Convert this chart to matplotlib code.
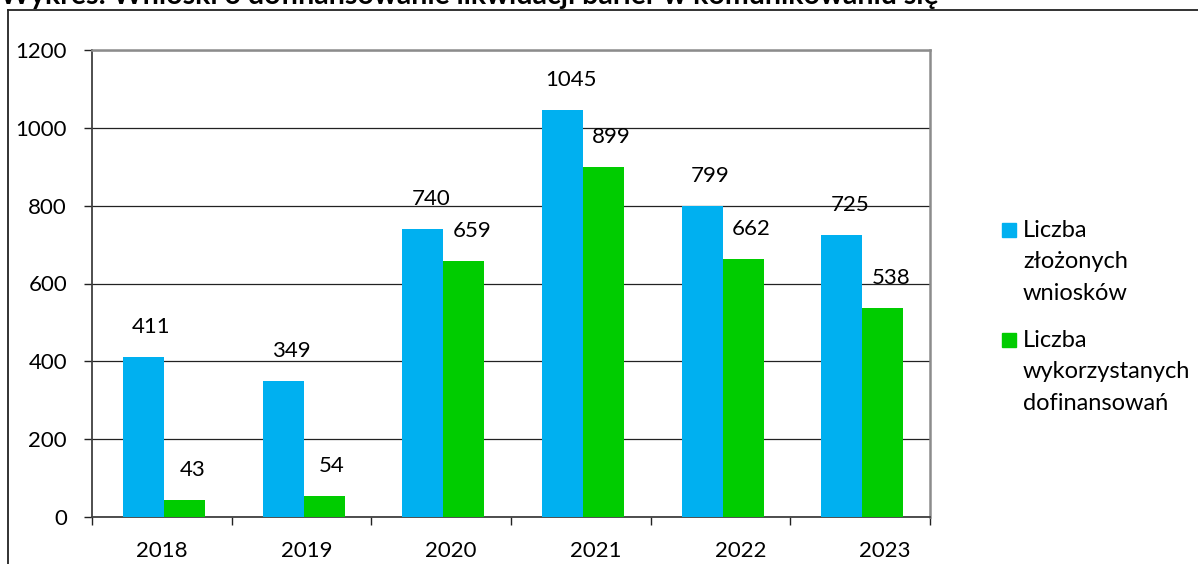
import matplotlib
matplotlib.use("Agg")
import matplotlib.pyplot as plt
from matplotlib.lines import Line2D
from matplotlib.patches import Rectangle
from matplotlib.transforms import ScaledTranslation
import numpy as np

plt.rcParams['font.family'] = ['Lato', 'DejaVu Sans']

years = ['2018', '2019', '2020', '2021', '2022', '2023']
wnioski = [411, 349, 740, 1045, 799, 725]
dofinansowania = [43, 54, 659, 899, 662, 538]
series_names = ['Liczba\nzłożonych\nwniosków', 'Liczba\nwykorzystanych\ndofinansowań']
colors = ['#00B0F0', '#00CC00']
title = 'Wykres: Wnioski o dofinansowanie likwidacji barier w komunikowaniu się'

W, H = 1198, 564
fig = plt.figure(figsize=(W / 100, H / 100), dpi=100)

# plot area in pixel terms
left, right, top, bottom = 92, 930, 50, 517
ax = fig.add_axes([left / W, 1 - bottom / H, (right - left) / W, (bottom - top) / H])

x = np.arange(len(years))
bw = 0.293
for i, vals in enumerate([wnioski, dofinansowania]):
    pos = x + 0.015 + (i - 0.5) * bw
    bars = ax.bar(pos, vals, width=bw, color=colors[i], zorder=3)
    for b, v in zip(bars, vals):
        ax.annotate(str(v), (b.get_x() + b.get_width() / 2, b.get_height()),
                    xytext=(8, 30), textcoords='offset pixels',
                    ha='center', va='center', fontsize=16, color='black', zorder=4)

ax.set_xlim(-0.5, len(years) - 0.5)
ax.set_ylim(0, 1200)
ax.set_yticks(range(0, 1201, 200))
ax.yaxis.grid(True, color='#222222', linewidth=0.9, zorder=0)
ax.set_axisbelow(True)

ax.set_xticks(x)
ax.set_xticklabels(years)
ax.set_xticks(np.arange(-0.5, len(years)), minor=True)
ax.tick_params(axis='x', which='major', length=0, pad=17, labelsize=16)
ax.tick_params(axis='x', which='minor', length=6, width=1, color='#222222', direction='out')
ax.tick_params(axis='y', length=6, width=1, color='#222222', pad=12, labelsize=16)

# year labels drift slightly to the right across the axis
for k, lab in enumerate(ax.get_xticklabels()):
    lab.set_transform(lab.get_transform() + ScaledTranslation(5 * k / 100, 0, fig.dpi_scale_trans))

for s in ['left', 'bottom']:
    ax.spines[s].set_color('#404040')
    ax.spines[s].set_linewidth(1.3)
for s in ['top', 'right']:
    ax.spines[s].set_color('#8c8c8c')
    ax.spines[s].set_linewidth(1.8)

# legend drawn by hand: square next to the first line of each label
legend_tops = [223, 333]
for name, c, ty in zip(series_names, colors, legend_tops):
    fig.patches.append(Rectangle((1002 / W, 1 - (ty + 14) / H), 14 / W, 14 / H,
                                 transform=fig.transFigure, color=c))
    for k, line in enumerate(name.split('\n')):
        fig.text(1023 / W, 1 - (ty + 14 + k * 31.5) / H, line, fontsize=17,
                 ha='left', va='baseline')

# title clipped by the top edge, and the surrounding frame
fig.text(0, 1 - 4 / H, title, fontsize=20.5, fontweight='bold', ha='left', va='baseline')
fig.lines.append(Line2D([8 / W, 1], [1 - 10 / H, 1 - 10 / H], transform=fig.transFigure,
                        color='#222222', linewidth=1.3))
fig.lines.append(Line2D([8 / W, 8 / W], [0, 1 - 10 / H], transform=fig.transFigure,
                        color='#222222', linewidth=1.3))

fig.savefig('out.png', dpi=100)
